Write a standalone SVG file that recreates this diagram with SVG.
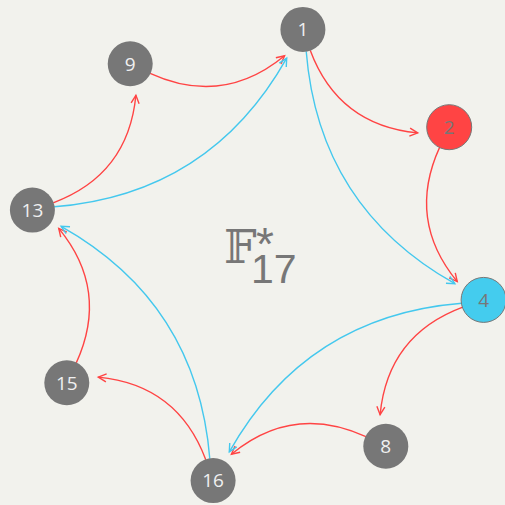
<svg xmlns="http://www.w3.org/2000/svg" width="505" height="505" viewBox="0 0 505 505">
<style>
.bg{fill:#f2f2ed}
.red{fill:none;stroke:#ff4444;stroke-width:1.4;marker-end:url(#ar)}
.blue{fill:none;stroke:#44c8ee;stroke-width:1.4;marker-end:url(#ab)}
.n{fill:#777777}
.nr{fill:#ff4444;stroke:#777777;stroke-width:1}
.nb{fill:#44ccee;stroke:#777777;stroke-width:1}
.t{font-family:"Open Sans","DejaVu Sans",sans-serif;font-size:19px;text-anchor:middle;fill:#f0f0f0}
.tc{fill:#777777}
.lab{fill:#777777;font-family:"Liberation Sans",sans-serif}
</style>
<defs>
<marker id="ar" viewBox="-10 -6 12 12" refX="0" refY="0" markerWidth="12" markerHeight="12" markerUnits="userSpaceOnUse" orient="auto">
<path d="M-8,-4 L0,0 L-8,4" fill="none" stroke="#ff4444" stroke-width="1.4"/>
</marker>
<marker id="ab" viewBox="-10 -6 12 12" refX="0" refY="0" markerWidth="12" markerHeight="12" markerUnits="userSpaceOnUse" orient="auto">
<path d="M-8,-4 L0,0 L-8,4" fill="none" stroke="#44c8ee" stroke-width="1.4"/>
</marker>
</defs>
<rect class="bg" x="0" y="0" width="505" height="505"/>
<g id="connectors">
<path class="red" d="M310.2,50.2 Q338.1,125.2 417.7,132.9"/>
<path class="red" d="M310.2,50.2 Q338.1,125.2 417.7,132.9" transform="rotate(45 258 255)"/>
<path class="red" d="M310.2,50.2 Q338.1,125.2 417.7,132.9" transform="rotate(90 258 255)"/>
<path class="red" d="M310.2,50.2 Q338.1,125.2 417.7,132.9" transform="rotate(135 258 255)"/>
<path class="red" d="M310.2,50.2 Q338.1,125.2 417.7,132.9" transform="rotate(180 258 255)"/>
<path class="red" d="M310.2,50.2 Q338.1,125.2 417.7,132.9" transform="rotate(225 258 255)"/>
<path class="red" d="M310.2,50.2 Q338.1,125.2 417.7,132.9" transform="rotate(270 258 255)"/>
<path class="red" d="M310.2,50.2 Q338.1,125.2 417.7,132.9" transform="rotate(315 258 255)"/>
<path class="blue" d="M306.2,51.2 Q318.7,207 454.9,283.7"/>
<path class="blue" d="M306.2,51.2 Q318.7,207 454.9,283.7" transform="rotate(90 258 255)"/>
<path class="blue" d="M306.2,51.2 Q318.7,207 454.9,283.7" transform="rotate(180 258 255)"/>
<path class="blue" d="M306.2,51.2 Q318.7,207 454.9,283.7" transform="rotate(270 258 255)"/>
</g>
<g id="node1"><circle class="n" cx="302.9" cy="29.4" r="22.5"/><text class="t" x="302.9" y="36.2">1</text></g>
<g id="node2"><circle class="nr" cx="449.2" cy="127.2" r="22.5"/><text class="t tc" x="449.2" y="134">2</text></g>
<g id="node4"><circle class="nb" cx="483.6" cy="299.9" r="22.5"/><text class="t tc" x="483.6" y="306.7">4</text></g>
<g id="node8"><circle class="n" cx="385.8" cy="446.2" r="22.5"/><text class="t" x="385.8" y="453">8</text></g>
<g id="node16"><circle class="n" cx="213.1" cy="480.6" r="22.5"/><text class="t" x="213.1" y="487.4">16</text></g>
<g id="node15"><circle class="n" cx="66.8" cy="382.8" r="22.5"/><text class="t" x="66.8" y="389.6">15</text></g>
<g id="node13"><circle class="n" cx="32.4" cy="210.1" r="22.5"/><text class="t" x="32.4" y="216.9">13</text></g>
<g id="node9"><circle class="n" cx="130.2" cy="63.8" r="22.5"/><text class="t" x="130.2" y="70.6">9</text></g>
<g id="label">
<text class="lab" x="224" y="263"><tspan font-family="DejaVu Serif, DejaVu Sans, serif" font-size="46">𝔽</tspan><tspan x="256" y="260" font-size="46">*</tspan><tspan x="251" y="283" font-size="41">17</tspan></text>
</g>
</svg>
